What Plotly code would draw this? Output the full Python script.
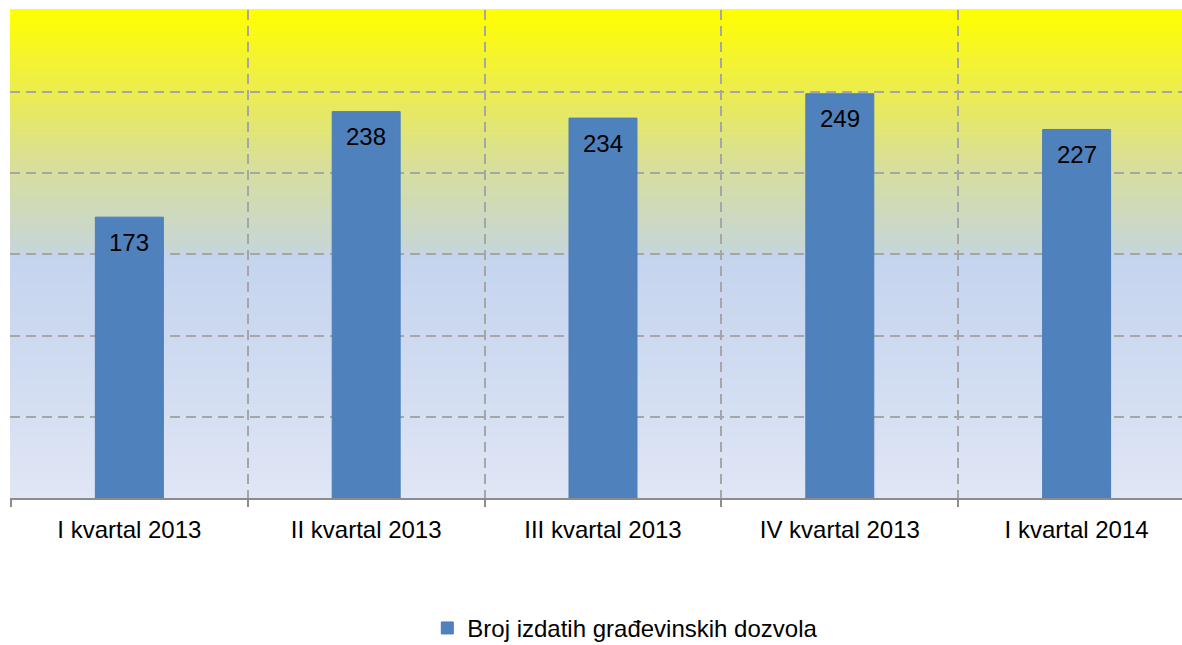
import plotly.graph_objects as go

categories = ["I kvartal 2013", "II kvartal 2013", "III kvartal 2013", "IV kvartal 2013", "I kvartal 2014"]
values = [173, 238, 234, 249, 227]
series_name = "Broj izdatih građevinskih dozvola"

FONT = "Liberation Sans, Arial, sans-serif"
BAR = "#4F81BD"
GRID = "#A6A6A6"

fig = go.Figure()
fig.add_trace(go.Bar(
    x=categories, y=values, name=series_name,
    marker=dict(color=BAR, line=dict(color="#4A7EBB", width=1)),
    width=0.287, showlegend=True, hoverinfo="x+y",
))

# value labels inside top of bars
for c, v in zip(categories, values):
    fig.add_annotation(x=c, y=v, xref="x", yref="y", text=str(v), showarrow=False,
                       yanchor="middle", yshift=-25,
                       font=dict(family=FONT, size=24, color="#000000"))

# gradient background via thin bands (paper coords)
stops = [
    (0.0, (224, 230, 245)),
    (0.333, (204, 217, 240)),
    (0.5, (197, 212, 238)),
    (0.5001, (198, 213, 218)),
    (0.667, (214, 222, 160)),
    (0.833, (236, 236, 80)),
    (1.0, (255, 255, 0)),
]

def col_at(t):
    for (a, ca), (b, cb) in zip(stops[:-1], stops[1:]):
        if a <= t <= b:
            f = 0 if b == a else (t - a) / (b - a)
            return "rgb(%d,%d,%d)" % tuple(round(ca[i] + (cb[i] - ca[i]) * f) for i in range(3))
    return "rgb(255,255,0)"

N = 160
shapes = []
for i in range(N):
    y0 = i / N
    y1 = (i + 1) / N
    shapes.append(dict(type="rect", xref="paper", yref="paper", x0=0, x1=1, y0=y0, y1=y1 + 0.002,
                       fillcolor=col_at((y0 + y1) / 2), line=dict(width=0), layer="below"))

fig.update_layout(
    width=1182, height=645,
    margin=dict(l=10, r=0, t=10, b=147, autoexpand=False),
    paper_bgcolor="white", plot_bgcolor="rgba(0,0,0,0)",
    shapes=shapes,
    font=dict(family=FONT, size=24, color="#000000"),
    bargap=0.713,
    showlegend=True,
    legend=dict(orientation="h", x=0.525, xanchor="center", y=-0.221, yanchor="top",
                font=dict(family=FONT, size=24, color="#000000"), bgcolor="rgba(0,0,0,0)"),
    xaxis=dict(
        type="category", range=[-0.504, 4.445], tickson="boundaries",
        showgrid=True, gridcolor=GRID, gridwidth=2, griddash="10px,6px",
        showline=True, linecolor="#8C8C8C", linewidth=2,
        ticks="outside", ticklen=7, tickcolor="#8C8C8C", tickwidth=2,
        ticklabelstandoff=9, automargin=False,
        tickfont=dict(family=FONT, size=24, color="#000000"),
        fixedrange=True,
    ),
    yaxis=dict(
        range=[0, 300.6], dtick=50, showticklabels=False,
        showgrid=True, gridcolor=GRID, gridwidth=2, griddash="10px,6px",
        zeroline=False, showline=False, ticks="", automargin=False,
        fixedrange=True,
    ),
)

fig.write_html("out.html", config={"displayModeBar": False},
               post_script="document.body.style.margin='0';document.body.style.overflow='hidden';")
